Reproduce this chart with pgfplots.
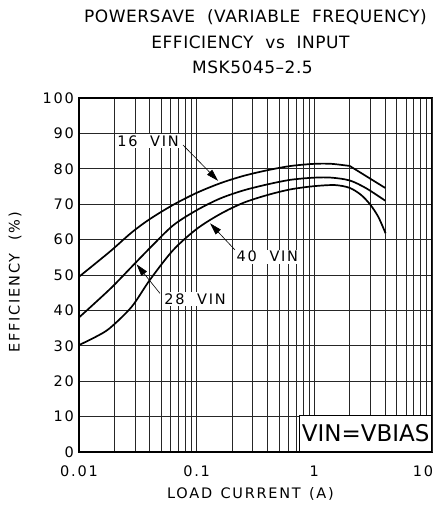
\documentclass[border=0pt]{standalone}
\usepackage{pgfplots}
\pgfplotsset{compat=1.18}
\usepackage{fontspec}
\setmainfont{DejaVu Sans}
\newfontfamily\lblfont{DejaVu Sans}[LetterSpace=12]
\newfontfamily\ttlfont{DejaVu Sans}[LetterSpace=3]
\newfontfamily\boxfont{DejaVu Sans}
\usetikzlibrary{arrows.meta}

\pgfplotstableread{
x y
0.01 49.5
0.0183 56.6
0.028 62.0
0.040 65.8
0.063 69.8
0.1 73.2
0.158 75.9
0.25 78.0
0.4 79.6
0.63 80.8
1.0 81.4
1.4 81.4
2.0 80.8
}\vsixteen

\pgfplotstableread{
x y
2.0 80.8
4.0 74.6
}\vsixteentail

\pgfplotstableread{
x y
0.01 38.0
0.0183 46.0
0.028 52.3
0.040 57.6
0.063 64.0
0.1 68.3
0.158 71.6
0.25 73.9
0.4 75.6
0.63 76.9
1.0 77.5
1.4 77.5
2.0 76.7
2.76 74.5
4.0 71.0
}\vtwentyeight

\pgfplotstableread{
x y
0.01 30.2
0.014 32.6
0.0183 35.0
0.028 41.0
0.040 48.6
0.063 57.0
0.1 63.0
0.158 67.2
0.25 70.4
0.4 72.6
0.63 74.2
1.0 75.1
1.5 75.4
2.0 74.6
2.5 72.6
3.0 69.8
3.5 66.4
4.03 61.8
}\vforty

\begin{document}
\begin{tikzpicture}
\begin{axis}[
  scale only axis,
  width=353pt, height=354pt,
  xmode=log,
  xmin=0.01, xmax=10, ymin=0, ymax=100,
  xtick={0.01,0.1,1},
  xticklabels={0.01,0.1,1},
  minor xtick={0.02,0.03,0.04,0.05,0.06,0.07,0.08,0.09,0.2,0.3,0.4,0.5,0.6,0.7,0.8,0.9,2,3,4,5,6,7,8,9},
  extra x ticks={10},
  extra x tick labels={10},
  extra x tick style={xticklabel style={xshift=-9pt}},
  ytick={0,10,...,100},
  grid=both,
  major grid style={line width=0.75pt, black!85},
  minor grid style={line width=0.75pt, black!85},
  major tick length=0pt, minor tick length=0pt,
  axis line style={line width=1.2pt},
  /pgf/number format/assume math mode=true,
  ticklabel style={font=\lblfont\fontsize{14.5}{15}\selectfont},
  xticklabel style={anchor=center, yshift=-19pt},
  yticklabel style={anchor=east, inner sep=0pt, xshift=-5pt},
  clip=false,
]
\addplot[black, line width=1.7pt, smooth, tension=0.5] table {\vsixteen};
\addplot[black, line width=1.7pt] table {\vsixteentail};
\addplot[black, line width=1.7pt, smooth, tension=0.5] table {\vtwentyeight};
\addplot[black, line width=1.7pt, smooth, tension=0.5] table {\vforty};

\draw[line width=0.6pt, -{Triangle[length=12pt,width=7pt]}] (axis cs:0.0766,86.7) -- (axis cs:0.152,76.6);
\draw[line width=0.6pt, -{Triangle[length=12pt,width=7pt]}] (axis cs:0.0488,44.8) -- (axis cs:0.0309,53.0);
\draw[line width=0.6pt, -{Triangle[length=12pt,width=7pt]}] (axis cs:0.2113,57.1) -- (axis cs:0.130,64.6);

\node[fill=white, inner sep=1.5pt, font=\lblfont\fontsize{14.5}{15}\selectfont] at (axis cs:0.0386,87.9) {16\ \ VIN};
\node[fill=white, inner sep=1.5pt, font=\lblfont\fontsize{14.5}{15}\selectfont] at (axis cs:0.0969,43.1) {28\ \ VIN};
\node[fill=white, inner sep=1.5pt, font=\lblfont\fontsize{14.5}{15}\selectfont] at (axis cs:0.399,55.2) {40\ \ VIN};

\node[draw, line width=1pt, fill=white, anchor=south east, inner xsep=2pt, inner ysep=9.5pt, text height=16.6pt, text depth=0pt, font=\boxfont\fontsize{23}{24}\selectfont] at (rel axis cs:1,0) {VIN=VBIAS};

\node[font=\ttlfont\fontsize{17}{17}\selectfont] at ([yshift=80.5pt]rel axis cs:0.5,1) {POWERSAVE\ \ (VARIABLE\ \ FREQUENCY)};
\node[font=\ttlfont\fontsize{17}{17}\selectfont] at ([yshift=55.5pt,xshift=-5pt]rel axis cs:0.5,1) {EFFICIENCY\ \ vs\ \ INPUT};
\node[font=\ttlfont\fontsize{17}{17}\selectfont] at ([yshift=30.5pt,xshift=-3pt]rel axis cs:0.5,1) {MSK5045\textendash 2.5};

\node[rotate=90, font=\lblfont\fontsize{14.5}{15}\selectfont] at ([xshift=-64pt,yshift=-7pt]rel axis cs:0,0.5) {EFFICIENCY\ \ (\%)};
\node[font=\lblfont\fontsize{14.5}{15}\selectfont] at ([yshift=-42pt,xshift=-5pt]rel axis cs:0.5,0) {LOAD\ \hspace{2pt}CURRENT\ \hspace{2pt}(A)};

\coordinate (bl) at (rel axis cs:0,0);
\coordinate (tr) at (rel axis cs:1,1);
\end{axis}
\pgfresetboundingbox
\path[use as bounding box] ([shift={(-79pt,-60pt)}]bl) rectangle ([shift={(7pt,98pt)}]tr);
\end{tikzpicture}
\end{document}
